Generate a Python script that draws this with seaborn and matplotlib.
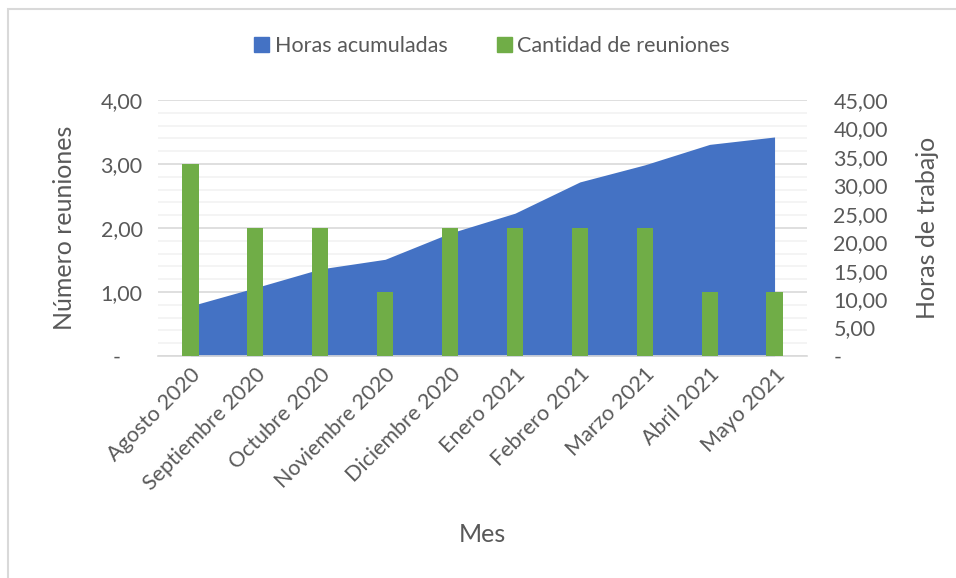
import matplotlib
matplotlib.use('Agg')
import matplotlib.pyplot as plt
import seaborn as sns
import pandas as pd
from matplotlib.ticker import MultipleLocator, FuncFormatter
from matplotlib.patches import Patch, Rectangle

# data
meses = ["Agosto 2020", "Septiembre 2020", "Octubre 2020", "Noviembre 2020",
         "Diciembre 2020", "Enero 2021", "Febrero 2021", "Marzo 2021",
         "Abril 2021", "Mayo 2021"]
reuniones = [3, 2, 2, 1, 2, 2, 2, 2, 1, 1]
horas = [8.8, 12.0, 15.3, 17.0, 21.6, 25.1, 30.6, 33.6, 37.2, 38.5]

df = pd.DataFrame({"Mes": meses, "Reuniones": reuniones, "Horas": horas})

sns.set_theme(style="white")
plt.rcParams['font.family'] = ['Lato', 'DejaVu Sans']

azul = "#4472C4"
verde = "#70AD47"
gris = "#595959"

fig = plt.figure(figsize=(9.56, 5.78), dpi=100)
rect = [158/956, 1 - 356/578, (807-158)/956, (356-100)/578]

# background axes only for the gridlines (left scale)
bg = fig.add_axes(rect)
bg.set_xlim(-0.5, 9.5)
bg.set_ylim(0, 4)
bg.yaxis.set_major_locator(MultipleLocator(1))
bg.yaxis.set_minor_locator(MultipleLocator(0.2))
bg.grid(which='minor', axis='y', color='#F2F2F2', lw=1.2)
bg.grid(which='major', axis='y', color='#D9D9D9', lw=1.2)
bg.tick_params(left=False, bottom=False, labelleft=False, labelbottom=False,
               which='both')
for s in bg.spines.values():
    s.set_visible(False)

# area (right axis)
ax2 = fig.add_axes(rect, sharex=bg)
ax2.patch.set_visible(False)
ax2.fill_between(range(len(meses)), df["Horas"], color=azul, lw=0, zorder=1)
ax2.set_ylim(0, 45)
ax2.yaxis.set_major_locator(MultipleLocator(5))
ax2.yaxis.tick_right()
ax2.yaxis.set_label_position('right')
ax2.yaxis.set_major_formatter(FuncFormatter(
    lambda v, p: "-" if v == 0 else f"{v:.2f}".replace('.', ',')))
ax2.tick_params(axis='y', length=0, labelsize=15.5, labelcolor=gris, pad=19)
ax2.tick_params(axis='x', bottom=False, labelbottom=False)
ax2.set_ylabel("Horas de trabajo", fontsize=18, color=gris, labelpad=20)
for s in ax2.spines.values():
    s.set_visible(False)

# bars (left axis)
ax = fig.add_axes(rect, sharex=bg)
ax.patch.set_visible(False)
sns.barplot(data=df, x="Mes", y="Reuniones", color=verde, width=0.25,
            saturation=1, linewidth=0, edgecolor=verde, ax=ax, zorder=3)
ax.set_xlim(-0.5, 9.5)
ax.set_ylim(0, 4)
ax.yaxis.set_major_locator(MultipleLocator(1))
ax.yaxis.set_major_formatter(FuncFormatter(
    lambda v, p: "-    " if v == 0 else f"{v:.2f}".replace('.', ',')))
ax.tick_params(axis='y', length=0, labelsize=15.5, labelcolor=gris, pad=11)
ax.tick_params(axis='x', length=0, labelsize=15.5, labelcolor=gris, pad=6)
ax.set_xticks(range(len(meses)))
ax.set_xticklabels(meses, rotation=45, ha='right', rotation_mode='anchor')
ax.set_ylabel("Número reuniones", fontsize=18, color=gris, labelpad=18)
ax.set_xlabel("Mes", fontsize=18, color=gris, labelpad=21)
for s in ["top", "left", "right"]:
    ax.spines[s].set_visible(False)
ax.spines["bottom"].set_color('#D9D9D9')
ax.spines["bottom"].set_linewidth(1.2)

handles = [Patch(color=azul, label="Horas acumuladas"),
           Patch(color=verde, label="Cantidad de reuniones")]
leg = fig.legend(handles=handles, loc='center', bbox_to_anchor=(492/956, 1 - 46/578),
                 ncol=2, frameon=False, fontsize=15.5, handlelength=0.7,
                 handleheight=0.7, handletextpad=0.25, columnspacing=2.3)
for t in leg.get_texts():
    t.set_color(gris)

fig.patches.append(Rectangle((8/956, -0.1), 1.2, 1.1 - 9/578, transform=fig.transFigure,
                             fill=False, edgecolor='#D9D9D9', lw=1.5))

fig.savefig("out.png", dpi=100)
